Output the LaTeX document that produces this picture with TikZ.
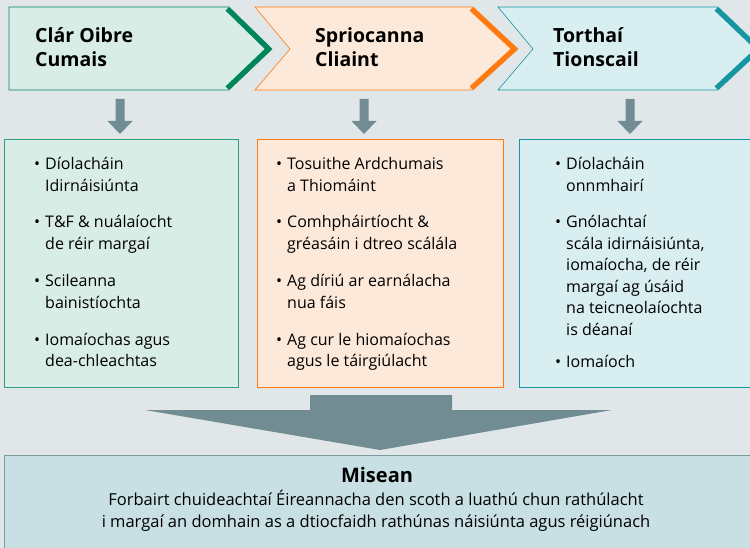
\documentclass[tikz,border=0pt]{standalone}
\usepackage{fontspec}
\setmainfont{Open Sans}
\definecolor{bg}{HTML}{E1E7E9}
\definecolor{gfill}{HTML}{D8EDE5}
\definecolor{gdark}{HTML}{00845A}
\definecolor{ofill}{HTML}{FDE9DA}
\definecolor{odark}{HTML}{FF7A10}
\definecolor{tfill}{HTML}{D8EEF1}
\definecolor{tdark}{HTML}{1695A3}
\definecolor{agray}{HTML}{718C92}
\definecolor{mfill}{HTML}{C8E0E3}
\definecolor{mline}{HTML}{7C9BA0}
\begin{document}
\begin{tikzpicture}[x=1pt,y=-1pt,
  hdr/.style={anchor=base west, inner sep=0, font=\fontsize{19.5}{24}\selectfont\bfseries},
  itm/.style={anchor=base west, inner sep=0, font=\fontsize{16}{21.5}\selectfont},
  panel/.style={anchor=north west, inner sep=0, line width=0.8pt},
  thick edge/.style={line width=10pt}
]
\useasboundingbox (0,0) rectangle (750,548);
\fill[bg] (0,0) rectangle (750,548);
\clip (0,0) rectangle (750,548);

% chevron 1
\path[fill=gfill, draw=gdark, line width=0.6pt] (9,7) -- (229,7) -- (272,49) -- (229,90) -- (9,90) -- cycle;
\begin{scope}
  \clip (9,7) -- (229,7) -- (272,49) -- (229,90) -- (9,90) -- cycle;
  \draw[gdark, thick edge] (229,7) -- (272,49) -- (229,90);
\end{scope}
% chevron 2
\path[fill=ofill, draw=odark, line width=0.6pt] (255,7) -- (473,7) -- (518,49) -- (473,90) -- (255,90) -- (290,49) -- cycle;
\begin{scope}
  \clip (255,7) -- (473,7) -- (518,49) -- (473,90) -- (255,90) -- (290,49) -- cycle;
  \draw[odark, thick edge] (473,7) -- (518,49) -- (473,90);
\end{scope}
% chevron 3
\path[fill=tfill, draw=tdark, line width=0.6pt] (498,7) -- (718,7) -- (762,49) -- (718,90) -- (498,90) -- (533,49) -- cycle;
\begin{scope}
  \clip (498,7) -- (718,7) -- (762,49) -- (718,90) -- (498,90) -- (533,49) -- cycle;
  \draw[tdark, thick edge] (718,7) -- (762,49) -- (718,90);
\end{scope}

\node[hdr] (h1) at (35,43) {\parbox[t]{200pt}{\raggedright Clár Oibre\\Cumais}};
\node[hdr] (h2) at (315,43) {\parbox[t]{200pt}{\raggedright Spriocanna\\Cliaint}};
\node[hdr] (h3) at (553,43) {\parbox[t]{200pt}{\raggedright Torthaí\\Tionscail}};

% small arrows
\foreach \c in {120,364,630}{
  \fill[agray] (\c-4.5,99) -- (\c+4.5,99) -- (\c+4.5,121) -- (\c+12.5,121) -- (\c,134) -- (\c-12.5,121) -- (\c-4.5,121) -- cycle;
}

% panels
\node[panel, fill=gfill, draw=gdark!80, minimum width=234pt, minimum height=248pt] (b1) at (4,139) {};
\node[panel, fill=ofill, draw=odark, minimum width=246pt, minimum height=248pt] (b2) at (257,139) {};
\node[panel, fill=tfill, draw=tdark, minimum width=260pt, minimum height=248pt] (b3) at (519,139) {};

\newcommand{\bl}[1]{\parbox[t]{230pt}{\raggedright\leavevmode\llap{\textbullet\hspace{5pt}}#1}}
\node[itm] (i11) at (45,170) {\bl{Díolacháin\\Idirnáisiúnta}};
\node[itm] (i12) at (45,228) {\bl{T\&F \& nuálaíocht\\de réir margaí}};
\node[itm] (i13) at (45,287) {\bl{Scileanna\\bainistíochta}};
\node[itm] (i14) at (45,345) {\bl{Iomaíochas agus\\dea-chleachtas}};

\node[itm] (i21) at (287,170) {\bl{Tosuithe Ardchumais\\a Thiomáint}};
\node[itm] (i22) at (287,228) {\bl{Comhpháirtíocht \&\\gréasáin i dtreo scálála}};
\node[itm] (i23) at (287,287) {\bl{Ag díriú ar earnálacha\\nua fáis}};
\node[itm] (i24) at (287,345) {\bl{Ag cur le hiomaíochas\\agus le táirgiúlacht}};

\node[itm] (i31) at (566,170) {\bl{Díolacháin\\onnmhairí}};
\node[itm] (i32) at (566,228) {\bl{Gnólachtaí\\scála idirnáisiúnta,\\iomaíocha, de réir\\margaí ag úsáid\\na teicneolaíochta\\is déanaí}};
\node[itm] (i33) at (566,367) {\bl{Iomaíoch}};

% big arrow
\fill[agray] (310,395) -- (452,395) -- (452,410) -- (612,410) -- (380,450) -- (145,410) -- (310,410) -- cycle;

% mission
\node[panel, fill=mfill, draw=mline, minimum width=760pt, minimum height=110pt] (m) at (4,455) {};
\node[anchor=base, inner sep=0, font=\fontsize{20}{22}\selectfont\bfseries] (mt) at (377,482) {Misean};
\node[anchor=base, inner sep=0, font=\fontsize{16.5}{22}\selectfont] (mb) at (376,505)
  {\parbox[t]{700pt}{\centering Forbairt chuideachtaí Éireannacha den scoth a luathú chun rathúlacht\\i margaí an domhain as a dtiocfaidh rathúnas náisiúnta agus réigiúnach}};
\end{tikzpicture}
\end{document}
